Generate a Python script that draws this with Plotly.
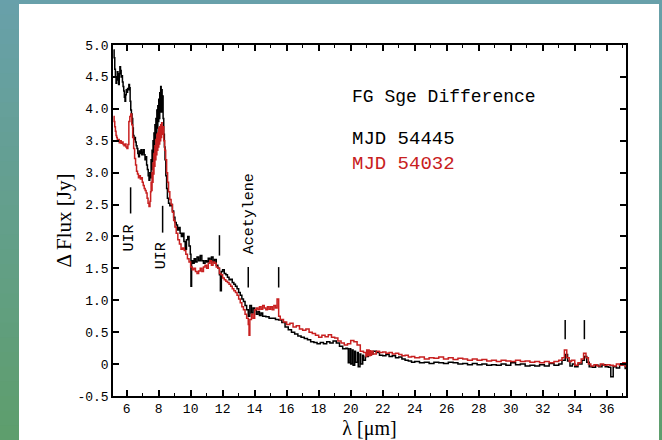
import plotly.graph_objects as go

# ---------------- data ----------------
black_wl = [5.18, 5.22, 5.26, 5.30, 5.34, 5.38, 5.42, 5.46, 5.50, 5.54, 5.58, 5.62, 5.66, 5.70, 5.74, 5.78,
            5.82, 5.86, 5.90, 5.94, 5.98, 6.02, 6.06, 6.10, 6.14, 6.18, 6.22, 6.26, 6.30, 6.34, 6.38, 6.42,
            6.46, 6.50, 6.55, 6.60, 6.65, 6.70, 6.75, 6.80, 6.85, 6.90, 6.95, 7.00, 7.05, 7.10, 7.15, 7.20,
            7.25, 7.30, 7.35, 7.40, 7.45, 7.50, 7.53, 7.56, 7.59, 7.62, 7.65, 7.68, 7.71, 7.74, 7.77, 7.80,
            7.83, 7.86, 7.89, 7.92, 7.95, 7.98, 8.01, 8.04, 8.07, 8.10, 8.13, 8.16, 8.19, 8.22, 8.25, 8.28,
            8.32, 8.36, 8.40, 8.45, 8.50, 8.55, 8.62, 8.70, 8.78, 8.86, 8.94, 9.02, 9.10, 9.18, 9.26, 9.34,
            9.42, 9.50, 9.58, 9.66, 9.74, 9.82, 9.90, 9.98, 10.02, 10.06, 10.14, 10.22, 10.30, 10.40, 10.50,
            10.60, 10.70, 10.80, 10.90, 11.00, 11.10, 11.20, 11.30, 11.40, 11.50, 11.60, 11.70, 11.80, 11.86,
            11.92, 12.00, 12.10, 12.20, 12.30, 12.40, 12.50, 12.60, 12.70, 12.80, 12.90, 13.00, 13.10, 13.20,
            13.30, 13.40, 13.50, 13.60, 13.70, 13.80, 13.90, 14.00, 14.10, 14.20, 14.30, 14.40, 14.50, 14.70,
            14.90, 15.10, 15.30, 15.50, 15.70, 15.90, 16.10, 16.30, 16.50, 16.70, 16.90, 17.10, 17.30, 17.50,
            17.70, 17.90, 18.10, 18.30, 18.50, 18.70, 18.90, 19.10, 19.30, 19.50, 19.70, 19.80, 19.85, 19.95,
            20.00, 20.10, 20.15, 20.25, 20.30, 20.42, 20.47, 20.58, 20.63, 20.75, 20.80, 20.92, 21.00, 21.10,
            21.20, 21.40, 21.60, 21.80, 22.00, 22.20, 22.40, 22.60, 22.80, 23.00, 23.20, 23.40,
            23.60, 23.80, 24.00, 24.30, 24.60, 24.90, 25.20, 25.50, 25.80, 26.10, 26.40, 26.70, 27.00, 27.30,
            27.60, 27.90, 28.20, 28.50, 28.80, 29.10, 29.40, 29.70, 30.00, 30.30, 30.60, 30.90, 31.20, 31.50,
            31.80, 32.10, 32.40, 32.70, 33.00, 33.20, 33.40, 33.55, 33.70, 33.85, 34.00, 34.20, 34.45, 34.60,
            34.75, 34.90, 35.10, 35.30, 35.50, 35.70, 35.90, 36.10, 36.25, 36.40, 36.60, 36.80, 37.00, 37.15]
black_flux = [4.92, 4.80, 4.62, 4.50, 4.40, 4.48, 4.58, 4.45, 4.38, 4.55, 4.66, 4.60, 4.50, 4.52, 4.42, 4.35,
              4.28, 4.18, 4.12, 4.22, 4.30, 4.26, 4.32, 4.30, 4.38, 4.33, 4.12, 3.98, 3.92, 3.85, 3.70, 3.58,
              3.52, 3.55, 3.48, 3.42, 3.38, 3.30, 3.25, 3.34, 3.30, 3.36, 3.28, 3.32, 3.36, 3.28, 3.20, 3.25,
              3.12, 3.05, 2.95, 2.88, 3.00, 2.92, 3.20, 3.05, 3.35, 3.18, 3.50, 3.30, 3.62, 3.40, 3.75, 3.52,
              3.85, 3.60, 3.98, 3.70, 4.05, 3.80, 4.15, 3.85, 4.25, 3.95, 4.35, 4.00, 4.30, 3.95, 4.20, 3.85,
              3.60, 3.40, 3.20, 2.95, 2.75, 2.60, 2.52, 2.48, 2.50, 2.40, 2.30, 2.22, 2.18, 2.10, 2.14, 2.05,
              2.00, 2.05, 1.92, 1.80, 1.95, 2.00, 1.85, 1.72, 1.22, 1.62, 1.58, 1.65, 1.60, 1.68, 1.62,
              1.70, 1.62, 1.58, 1.62, 1.60, 1.66, 1.62, 1.68, 1.60, 1.64, 1.55, 1.50, 1.40, 1.15,
              1.45, 1.48, 1.42, 1.40, 1.36, 1.32, 1.33, 1.28, 1.25, 1.22, 1.18, 1.12, 1.08, 1.02,
              0.98, 0.92, 0.85, 0.75, 0.92, 0.80, 0.88, 0.85, 0.78, 0.82, 0.76, 0.80, 0.75, 0.74,
              0.72, 0.72, 0.70, 0.69, 0.65, 0.58, 0.54, 0.50, 0.47, 0.44, 0.42, 0.40, 0.38, 0.35,
              0.34, 0.32, 0.34, 0.32, 0.35, 0.33, 0.36, 0.33, 0.28, 0.24, 0.25, 0.24, 0.02, 0.24,
              0.00, 0.22, -0.02, 0.20, 0.03, 0.18, -0.04, 0.16, 0.00, 0.14, 0.06, 0.12, 0.12, 0.14,
              0.16, 0.20, 0.18, 0.14, 0.13, 0.15, 0.12, 0.13, 0.10, 0.11, 0.08, 0.06,
              0.05, 0.03, 0.04, 0.02, 0.03, 0.01, 0.03, 0.02, 0.01, 0.03, 0.02, 0.00, 0.01, -0.01,
              0.01, -0.01, 0.00, -0.02, -0.01, -0.02, 0.00, -0.02, 0.02, -0.01, 0.00, -0.03, -0.02, -0.03,
              -0.01, -0.03, 0.01, -0.02, 0.00, 0.06, 0.15, 0.05, -0.03, 0.00, -0.04, 0.00, 0.06, 0.12,
              0.03, -0.04, -0.05, -0.02, -0.04, -0.01, -0.04, -0.05, -0.20, -0.04, -0.06, -0.02, 0.00, -0.08]

red_wl = [5.18, 5.22, 5.26, 5.30, 5.34, 5.38, 5.42, 5.48, 5.54, 5.60, 5.66, 5.72, 5.78, 5.84, 5.90, 5.96,
          6.02, 6.08, 6.14, 6.20, 6.26, 6.32, 6.38, 6.44, 6.50, 6.56, 6.62, 6.68, 6.74, 6.80, 6.86, 6.92,
          6.98, 7.04, 7.10, 7.16, 7.22, 7.28, 7.34, 7.40, 7.46, 7.50, 7.53, 7.56, 7.59, 7.62, 7.65, 7.68,
          7.71, 7.74, 7.77, 7.80, 7.83, 7.86, 7.89, 7.92, 7.95, 7.98, 8.01, 8.04, 8.07, 8.10, 8.13, 8.16,
          8.19, 8.22, 8.27, 8.32, 8.38, 8.44, 8.50, 8.56, 8.62, 8.70, 8.78, 8.86, 8.94, 9.02, 9.10, 9.20,
          9.30, 9.40, 9.50, 9.60, 9.70, 9.80, 9.90, 10.00, 10.10, 10.20, 10.30, 10.40, 10.50, 10.60, 10.70,
          10.80, 10.90, 11.00, 11.10, 11.20, 11.30, 11.40, 11.50, 11.60, 11.70, 11.80, 11.90, 12.00, 12.10,
          12.20, 12.30, 12.40, 12.50, 12.60, 12.70, 12.80, 12.90, 13.00, 13.10, 13.20, 13.30, 13.40, 13.50,
          13.60, 13.65, 13.70, 13.80, 13.90, 14.00, 14.10, 14.20, 14.30, 14.40, 14.50, 14.60, 14.70, 14.80,
          14.90, 15.00, 15.10, 15.20, 15.30, 15.40, 15.50, 15.60, 15.80, 16.00, 16.20, 16.40, 16.60, 16.80,
          17.00, 17.20, 17.40, 17.60, 17.80, 18.00, 18.20, 18.40, 18.60, 18.80, 19.00, 19.20, 19.40, 19.60,
          19.80, 20.00, 20.20, 20.40, 20.60, 20.80, 20.95, 21.00, 21.05, 21.10, 21.15, 21.20, 21.25, 21.30,
          21.40, 21.60, 21.80, 22.00, 22.20, 22.40, 22.60, 22.80, 23.00, 23.20, 23.40, 23.60, 23.80, 24.00,
          24.30, 24.60, 24.90, 25.20, 25.50, 25.80, 26.10, 26.40, 26.70, 27.00, 27.30, 27.60, 27.90, 28.20,
          28.50, 28.80, 29.10, 29.40, 29.70, 30.00, 30.30, 30.60, 30.90, 31.20, 31.50, 31.80, 32.10, 32.40,
          32.70, 33.00, 33.20, 33.35, 33.50, 33.65, 33.80, 34.00, 34.20, 34.40, 34.55, 34.70, 34.85, 35.00,
          35.20, 35.40, 35.60, 35.80, 36.00, 36.20, 36.40, 36.60, 36.80, 37.00, 37.15]
red_flux = [3.88, 3.80, 3.72, 3.65, 3.58, 3.55, 3.50, 3.52, 3.47, 3.50, 3.46, 3.48, 3.44, 3.42, 3.45, 3.40,
            3.38, 3.44, 3.80, 3.88, 3.92, 3.75, 3.55, 3.38, 3.22, 3.12, 3.02, 2.98, 2.92, 2.95, 2.90, 2.92,
            2.85, 2.80, 2.75, 2.72, 2.68, 2.60, 2.52, 2.47, 2.55, 2.70, 2.85, 2.72, 3.00, 2.85, 3.15, 2.98,
            3.30, 3.10, 3.42, 3.20, 3.52, 3.28, 3.60, 3.35, 3.62, 3.40, 3.70, 3.45, 3.72, 3.50, 3.75, 3.55,
            3.78, 3.60, 3.72, 3.50, 3.35, 3.20, 3.00, 2.85, 2.70, 2.58, 2.50, 2.38, 2.25, 2.15, 2.05, 1.95,
            1.88, 1.80, 1.82, 1.78, 1.72, 1.65, 1.60, 1.52, 1.48, 1.50, 1.45, 1.42, 1.46, 1.50, 1.45,
            1.52, 1.55, 1.50, 1.58, 1.62, 1.55, 1.60, 1.58, 1.52, 1.50, 1.42, 1.40, 1.35, 1.32,
            1.30, 1.28, 1.25, 1.22, 1.18, 1.15, 1.12, 1.08, 1.02, 0.96, 0.90, 0.85, 0.78, 0.72,
            0.62, 0.45, 0.70, 0.78, 0.72, 0.85, 0.88, 0.85, 0.90, 0.86, 0.92, 0.88, 0.85, 0.90,
            0.86, 0.90, 0.85, 0.92, 0.88, 1.02, 0.75, 0.70, 0.66, 0.62, 0.64, 0.58, 0.60, 0.55,
            0.53, 0.55, 0.50, 0.48, 0.45, 0.42, 0.45, 0.43, 0.46, 0.42, 0.41, 0.36, 0.33, 0.30,
            0.32, 0.37, 0.35, 0.30, 0.20, 0.18, 0.12, 0.22, 0.14, 0.22, 0.13, 0.21, 0.14, 0.20,
            0.16, 0.20, 0.18, 0.19, 0.17, 0.18, 0.16, 0.17, 0.15, 0.13, 0.14, 0.11, 0.12, 0.10,
            0.11, 0.08, 0.10, 0.09, 0.11, 0.08, 0.10, 0.07, 0.09, 0.08, 0.06, 0.08, 0.06, 0.07,
            0.05, 0.06, 0.04, 0.06, 0.05, 0.04, 0.06, 0.04, 0.05, 0.03, 0.04, 0.02, 0.04, 0.02,
            0.04, 0.06, 0.10, 0.22, 0.10, 0.04, 0.06, -0.02, 0.02, 0.08, 0.17, 0.10, 0.00, -0.03,
            -0.01, -0.03, 0.00, -0.02, -0.01, -0.02, -0.03, 0.00, -0.02, 0.02, -0.05]

# feature markers: wavelength, bottom flux, top flux
feature_wl = [6.25, 8.25, 11.8, 13.6, 15.5, 33.4, 34.6]
feature_lo = [2.36, 2.06, 1.70, 1.20, 1.20, 0.39, 0.39]
feature_hi = [2.77, 2.48, 2.02, 1.52, 1.52, 0.69, 0.69]

# rotated feature labels: text, wavelength, flux (centre)
label_text = ["UIR", "UIR", "Acetylene"]
label_wl = [6.19, 8.19, 13.69]
label_flux = [1.98, 1.70, 2.36]

x_ticks = list(range(6, 37, 2))
y_ticks = [-0.5, 0, 0.5, 1.0, 1.5, 2.0, 2.5, 3.0, 3.5, 4.0, 4.5, 5.0]
y_ticktext = ["-0.5", "0", "0.5", "1.0", "1.5", "2.0", "2.5", "3.0", "3.5", "4.0", "4.5", "5.0"]

BLACK = "#000000"
RED = "#c82020"
MONO = "Liberation Mono, Courier New, monospace"
SERIF = "Liberation Serif, Times New Roman, serif"

fig = go.Figure()
fig.add_trace(go.Scatter(x=black_wl, y=black_flux, mode="lines", line=dict(color=BLACK, width=1.5, shape="hv"),
                         name="MJD 54445"))
fig.add_trace(go.Scatter(x=red_wl, y=red_flux, mode="lines", line=dict(color=RED, width=1.5, shape="hv"),
                         name="MJD 54032"))

for wl, lo, hi in zip(feature_wl, feature_lo, feature_hi):
    fig.add_shape(type="line", xref="x", yref="y", x0=wl, x1=wl, y0=lo, y1=hi,
                  line=dict(color=BLACK, width=1.5))

for t, wl, fl in zip(label_text, label_wl, label_flux):
    fig.add_annotation(x=wl, y=fl, xref="x", yref="y", text=t, textangle=-90, showarrow=False,
                       font=dict(family=MONO, size=15, color=BLACK), xanchor="center", yanchor="middle")

fig.add_annotation(x=19.94, y=4.19, xref="x", yref="y", text="FG Sge Difference", showarrow=False,
                   xanchor="left", yanchor="middle", font=dict(family=MONO, size=18, color=BLACK))
fig.add_annotation(x=19.94, y=3.52, xref="x", yref="y", text="MJD 54445", showarrow=False,
                   xanchor="left", yanchor="middle", font=dict(family=MONO, size=19, color=BLACK))
fig.add_annotation(x=19.94, y=3.14, xref="x", yref="y", text="MJD 54032", showarrow=False,
                   xanchor="left", yanchor="middle", font=dict(family=MONO, size=19, color=RED))

# ---------- page frame (coloured border strips) ----------
L, R, T, B = 113, 36, 45, 44
W, H = 662, 440
pw, ph = W - L - R, H - T - B


def px_x(px):
    return (px - L) / pw


def px_y(py):
    return (H - B - py) / ph


top_col = (104, 160, 170)
bot_col = (94, 158, 108)
nb = 30
for i in range(nb):
    f = (i + 0.5) / nb
    c = tuple(int(round(top_col[k] + (bot_col[k] - top_col[k]) * f)) for k in range(3))
    col = "rgb(%d,%d,%d)" % c
    y_top = px_y(H * i / nb)
    y_bot = px_y(H * (i + 1) / nb + 2)
    for xa, xb in [(0, 19), (659, 662)]:
        fig.add_shape(type="rect", xref="paper", yref="paper", x0=px_x(xa), x1=px_x(xb), y0=y_bot, y1=y_top,
                      line=dict(width=0), fillcolor=col, layer="below")
fig.add_shape(type="rect", xref="paper", yref="paper", x0=px_x(0), x1=px_x(662), y0=px_y(4), y1=px_y(0),
              line=dict(width=0), fillcolor="rgb(104,160,170)", layer="below")

fig.update_layout(
    width=W, height=H,
    margin=dict(l=L, r=R, t=T, b=B, autoexpand=False),
    paper_bgcolor="white", plot_bgcolor="white",
    showlegend=False,
    xaxis=dict(range=[5.15, 37.2], tickvals=x_ticks, ticks="inside", ticklen=6, tickwidth=1.5,
               tickcolor=BLACK, showline=True, linecolor=BLACK, linewidth=1.5, mirror="ticks",
               showgrid=False, zeroline=False, automargin=False,
               minor=dict(dtick=1, ticks="inside", ticklen=3, tickwidth=1, tickcolor=BLACK),
               tickfont=dict(family=MONO, size=13, color=BLACK),
               title=dict(text="λ [μm]", font=dict(family=SERIF, size=20, color=BLACK), standoff=3)),
    yaxis=dict(range=[-0.5, 5.0], tickvals=y_ticks, ticktext=y_ticktext, ticks="inside", ticklen=6,
               tickwidth=1.5, tickcolor=BLACK, showline=True, linecolor=BLACK, linewidth=1.5,
               mirror="ticks", showgrid=False, zeroline=False, automargin=False,
               tickfont=dict(family=MONO, size=13, color=BLACK),
               title=dict(text="Δ Flux [Jy]", font=dict(family=SERIF, size=21, color=BLACK), standoff=0)),
)

fig.write_html("out.html")
